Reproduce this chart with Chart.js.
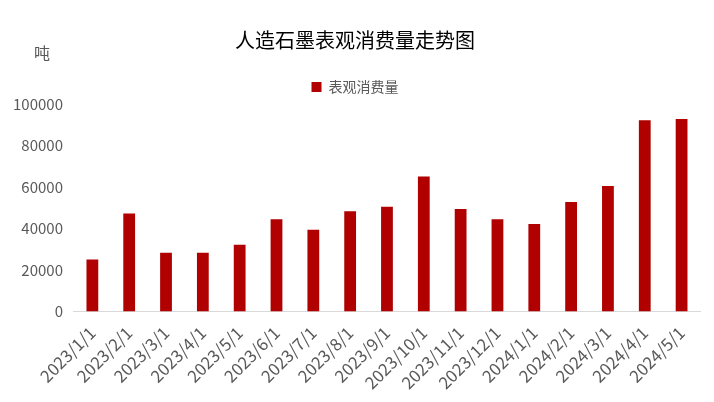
<!DOCTYPE html>
<html><head><meta charset="utf-8">
<script src="https://cdn.jsdelivr.net/npm/chart.js@4"></script>
<style>body{margin:0;background:#fff}#wrap{position:relative;width:714px;height:402px}
#unit{position:absolute;left:34px;top:40px;font:16px "Noto Sans CJK SC";color:#595959}</style>
</head><body><div id="wrap"><canvas id="c" width="714" height="402"></canvas><div id="unit">吨</div></div>
<script>
const categories = ['2023/1/1','2023/2/1','2023/3/1','2023/4/1','2023/5/1','2023/6/1','2023/7/1','2023/8/1','2023/9/1','2023/10/1','2023/11/1','2023/12/1','2024/1/1','2024/2/1','2024/3/1','2024/4/1','2024/5/1'];
const consumption = [25000,47200,28300,28300,32200,44400,39400,48300,50500,65000,49400,44400,42200,52800,60500,92200,92800];

new Chart(document.getElementById('c'), {
  type: 'bar',
  data: { labels: categories, datasets: [{ label: '表观消费量', data: consumption, backgroundColor: '#b00000', barPercentage: 0.32, categoryPercentage: 1 }] },
  options: {
    responsive: false, animation: false,
    layout: { padding: { left: 10, right: 14, top: 28, bottom: 6 } },
    plugins: {
      title: { display: true, text: '人造石墨表观消费量走势图', color: '#000', font: { size: 20, family: 'Noto Sans CJK SC', weight: 'normal' }, padding: { top: 0, bottom: 18 } },
      legend: { labels: { color: '#595959', boxWidth: 10, boxHeight: 10, font: { size: 14, family: 'Noto Sans CJK SC' } } },
      tooltip: { enabled: false }
    },
    scales: {
      x: { grid: { display: false }, border: { color: '#d9d9d9' },
        ticks: { color: '#595959', maxRotation: 45, minRotation: 45, font: { size: 17, family: 'Noto Sans CJK SC' } } },
      y: { min: 0, max: 100000, grid: { display: false }, border: { display: false },
        ticks: { stepSize: 10000, color: '#595959', callback: v => String(v), font: { size: 15, family: 'Noto Sans CJK SC' } } }
    }
  }
});
</script></body></html>
